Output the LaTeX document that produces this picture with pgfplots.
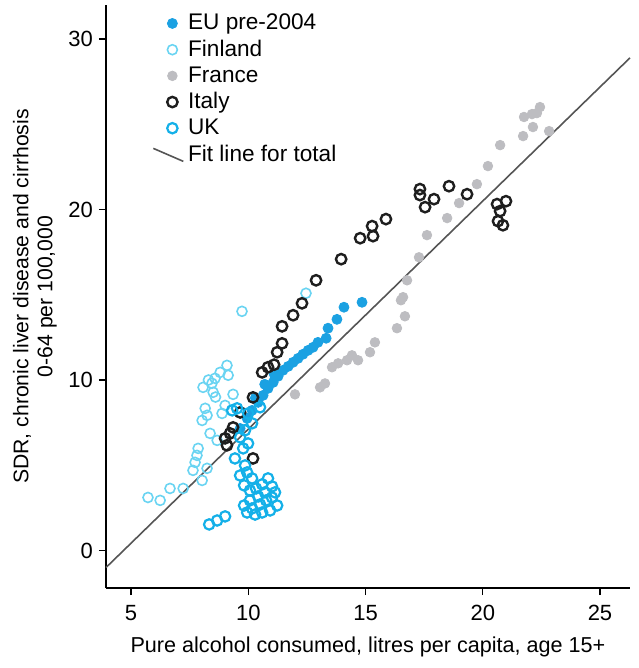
\documentclass[border=0pt]{standalone}
\usepackage{pgfplots}
\pgfplotsset{compat=1.18}
\usepackage{fontspec}
\setmainfont{Liberation Sans}
\definecolor{colEU}{HTML}{1BA1E2}
\definecolor{colFin}{HTML}{6AD4F2}
\definecolor{colFra}{HTML}{BDBDC1}
\definecolor{colIta}{HTML}{1E1E1E}
\definecolor{colUK}{HTML}{14B0E8}
\definecolor{colFit}{HTML}{555555}
\pgfplotsset{fitlegend/.style={legend image code/.code={\draw[##1] (-1pt,3pt) -- (14pt,-3.5pt);}}}

\begin{document}
\begin{tikzpicture}
\begin{axis}[
    scale only axis,
    width=262pt,
    height=291.5pt,
    xmin=3.93, xmax=26.28,
    ymin=-2.2, ymax=32,
    axis x line=bottom,
    axis y line=left,
    axis line style={-, line width=0.7pt},
    tick align=outside,
    major tick length=3.5pt,
    tick style={line width=0.7pt, black},
    xtick={5,10,15,20,25},
    ytick={0,10,20,30},
    tick label style={font=\fontsize{11}{13}\selectfont},
    yticklabel style={xshift=0.5pt},
    xticklabel style={yshift=-1.5pt},
    /pgf/number format/assume math mode=true,
    xlabel={Pure alcohol consumed, litres per capita, age 15+},
    xlabel style={font=\fontsize{10.8}{13}\selectfont, yshift=-1pt},
    ylabel={SDR, chronic liver disease and cirrhosis\\0-64 per 100,000},
    ylabel style={font=\fontsize{10.6}{12}\selectfont, align=center,
        inner sep=0pt,
        at={(axis description cs:-0.093,0.5)}, anchor=south},
    clip=false,
    legend style={
        draw=none, fill=none,
        at={(0.088,0.992)}, anchor=north west,
        font=\fontsize{11.3}{13}\selectfont,
        row sep=-0.4pt,
        inner sep=0pt,
        cells={anchor=west},
    },
]
% EU pre-2004
\addplot[only marks, mark=*, mark size=2.5pt, color=colEU] coordinates {
 (9.65,7.16) (9.95,7.75) (10.16,8.22) (10.42,8.69) (10.30,8.95) (10.63,9.10)
 (10.84,9.51) (10.70,9.75) (11.06,9.86) (11.27,10.22) (11.10,10.35) (11.48,10.57)
 (11.70,10.80) (11.91,11.04) (12.12,11.27) (12.33,11.51) (12.55,11.74)
 (12.76,11.92) (12.97,12.21) (13.32,12.45) (13.40,13.04) (13.78,13.56)
 (14.08,14.27) (14.85,14.56)
};
\addlegendentry{EU pre-2004}
% Finland
\addplot[only marks, mark=o, mark size=2.5pt, line width=0.8pt, color=colFin] coordinates {
 (9.73,14.03) (12.46,15.09) (9.09,10.86) (8.80,10.45) (8.58,10.10) (8.45,9.81)
 (8.07,9.57) (8.50,9.28) (9.14,10.28) (9.35,9.16) (8.16,8.34) (8.24,7.93)
 (8.03,7.63) (9.01,8.51) (8.88,8.04) (8.37,6.87) (8.67,6.46) (7.86,5.99)
 (7.81,5.58) (7.73,5.17) (7.64,4.70) (8.03,4.11) (8.24,4.82) (7.22,3.64)
 (6.66,3.64) (6.24,2.94) (5.72,3.11) (8.60,9.00) (8.30,10.00)
};
\addlegendentry{Finland}
% France
\addplot[only marks, mark=*, mark size=2.4pt, color=colFra] coordinates {
 (11.99,9.16) (13.06,9.57) (13.27,9.80) (13.57,10.75) (13.83,10.98)
 (14.21,11.16) (14.42,11.45) (14.68,11.16) (15.19,11.63) (15.40,12.21)
 (16.34,13.04) (16.68,13.74) (16.51,14.68) (16.60,14.86) (16.77,15.85)
 (17.28,17.20) (17.62,18.50) (18.48,19.50) (18.99,20.38) (19.75,21.49)
 (20.22,22.55) (20.74,23.78) (21.72,24.31) (22.14,24.84) (22.83,24.60)
 (21.76,25.43) (22.10,25.60) (22.31,25.66) (22.44,26.01)
};
\addlegendentry{France}
% Italy
\addplot[only marks, mark=o, mark size=2.6pt, line width=1.2pt, color=colIta] coordinates {
 (9.01,6.58) (9.09,6.17) (9.22,6.87) (9.35,7.22) (9.65,8.10) (10.20,8.98)
 (10.20,5.40) (10.59,10.45) (10.84,10.75) (11.10,10.90) (11.23,11.63)
 (11.44,12.15) (11.44,13.15) (11.91,13.80) (12.29,14.50) (12.89,15.85)
 (13.96,17.09) (14.77,18.32) (15.28,19.03) (15.32,18.44) (15.87,19.44)
 (17.32,21.20) (17.32,20.85) (17.54,20.14) (17.92,20.61) (18.56,21.37)
 (19.33,20.90) (20.61,20.32) (20.99,20.49) (20.74,19.91) (20.65,19.32)
 (20.86,19.08)
};
\addlegendentry{Italy}
% UK
\addplot[only marks, mark=o, mark size=2.6pt, line width=1.1pt, color=colUK] coordinates {
 (9.52,8.34) (9.99,8.04) (10.16,7.46) (9.86,7.05) (9.65,6.64) (9.99,6.28)
 (9.78,5.99) (9.43,5.40) (9.86,4.99) (10.50,8.40) (9.31,8.22)
 (9.65,4.40) (9.95,4.58) (10.16,4.23) (9.82,3.82) (10.07,3.52) (10.33,3.64)
 (10.59,3.88) (10.84,4.23) (11.01,3.76) (10.71,3.41) (10.42,3.17) (10.07,2.94)
 (9.82,2.64) (10.16,2.47) (10.50,2.70) (10.76,2.94) (11.01,3.11) (11.23,2.64)
 (10.59,2.23) (10.29,2.11) (9.95,2.23) (10.93,2.35) (11.14,3.41)
 (8.33,1.53) (8.67,1.76) (9.01,2.00)
};
\addlegendentry{UK}
% Fit line
\addplot[colFit, line width=0.8pt, fitlegend]
 coordinates {(3.93,-1.0) (26.28,28.9)};
\addlegendentry{Fit line for total}
\end{axis}
\path (-53pt,-40pt) rectangle (266pt,294pt);
\end{tikzpicture}
\end{document}
